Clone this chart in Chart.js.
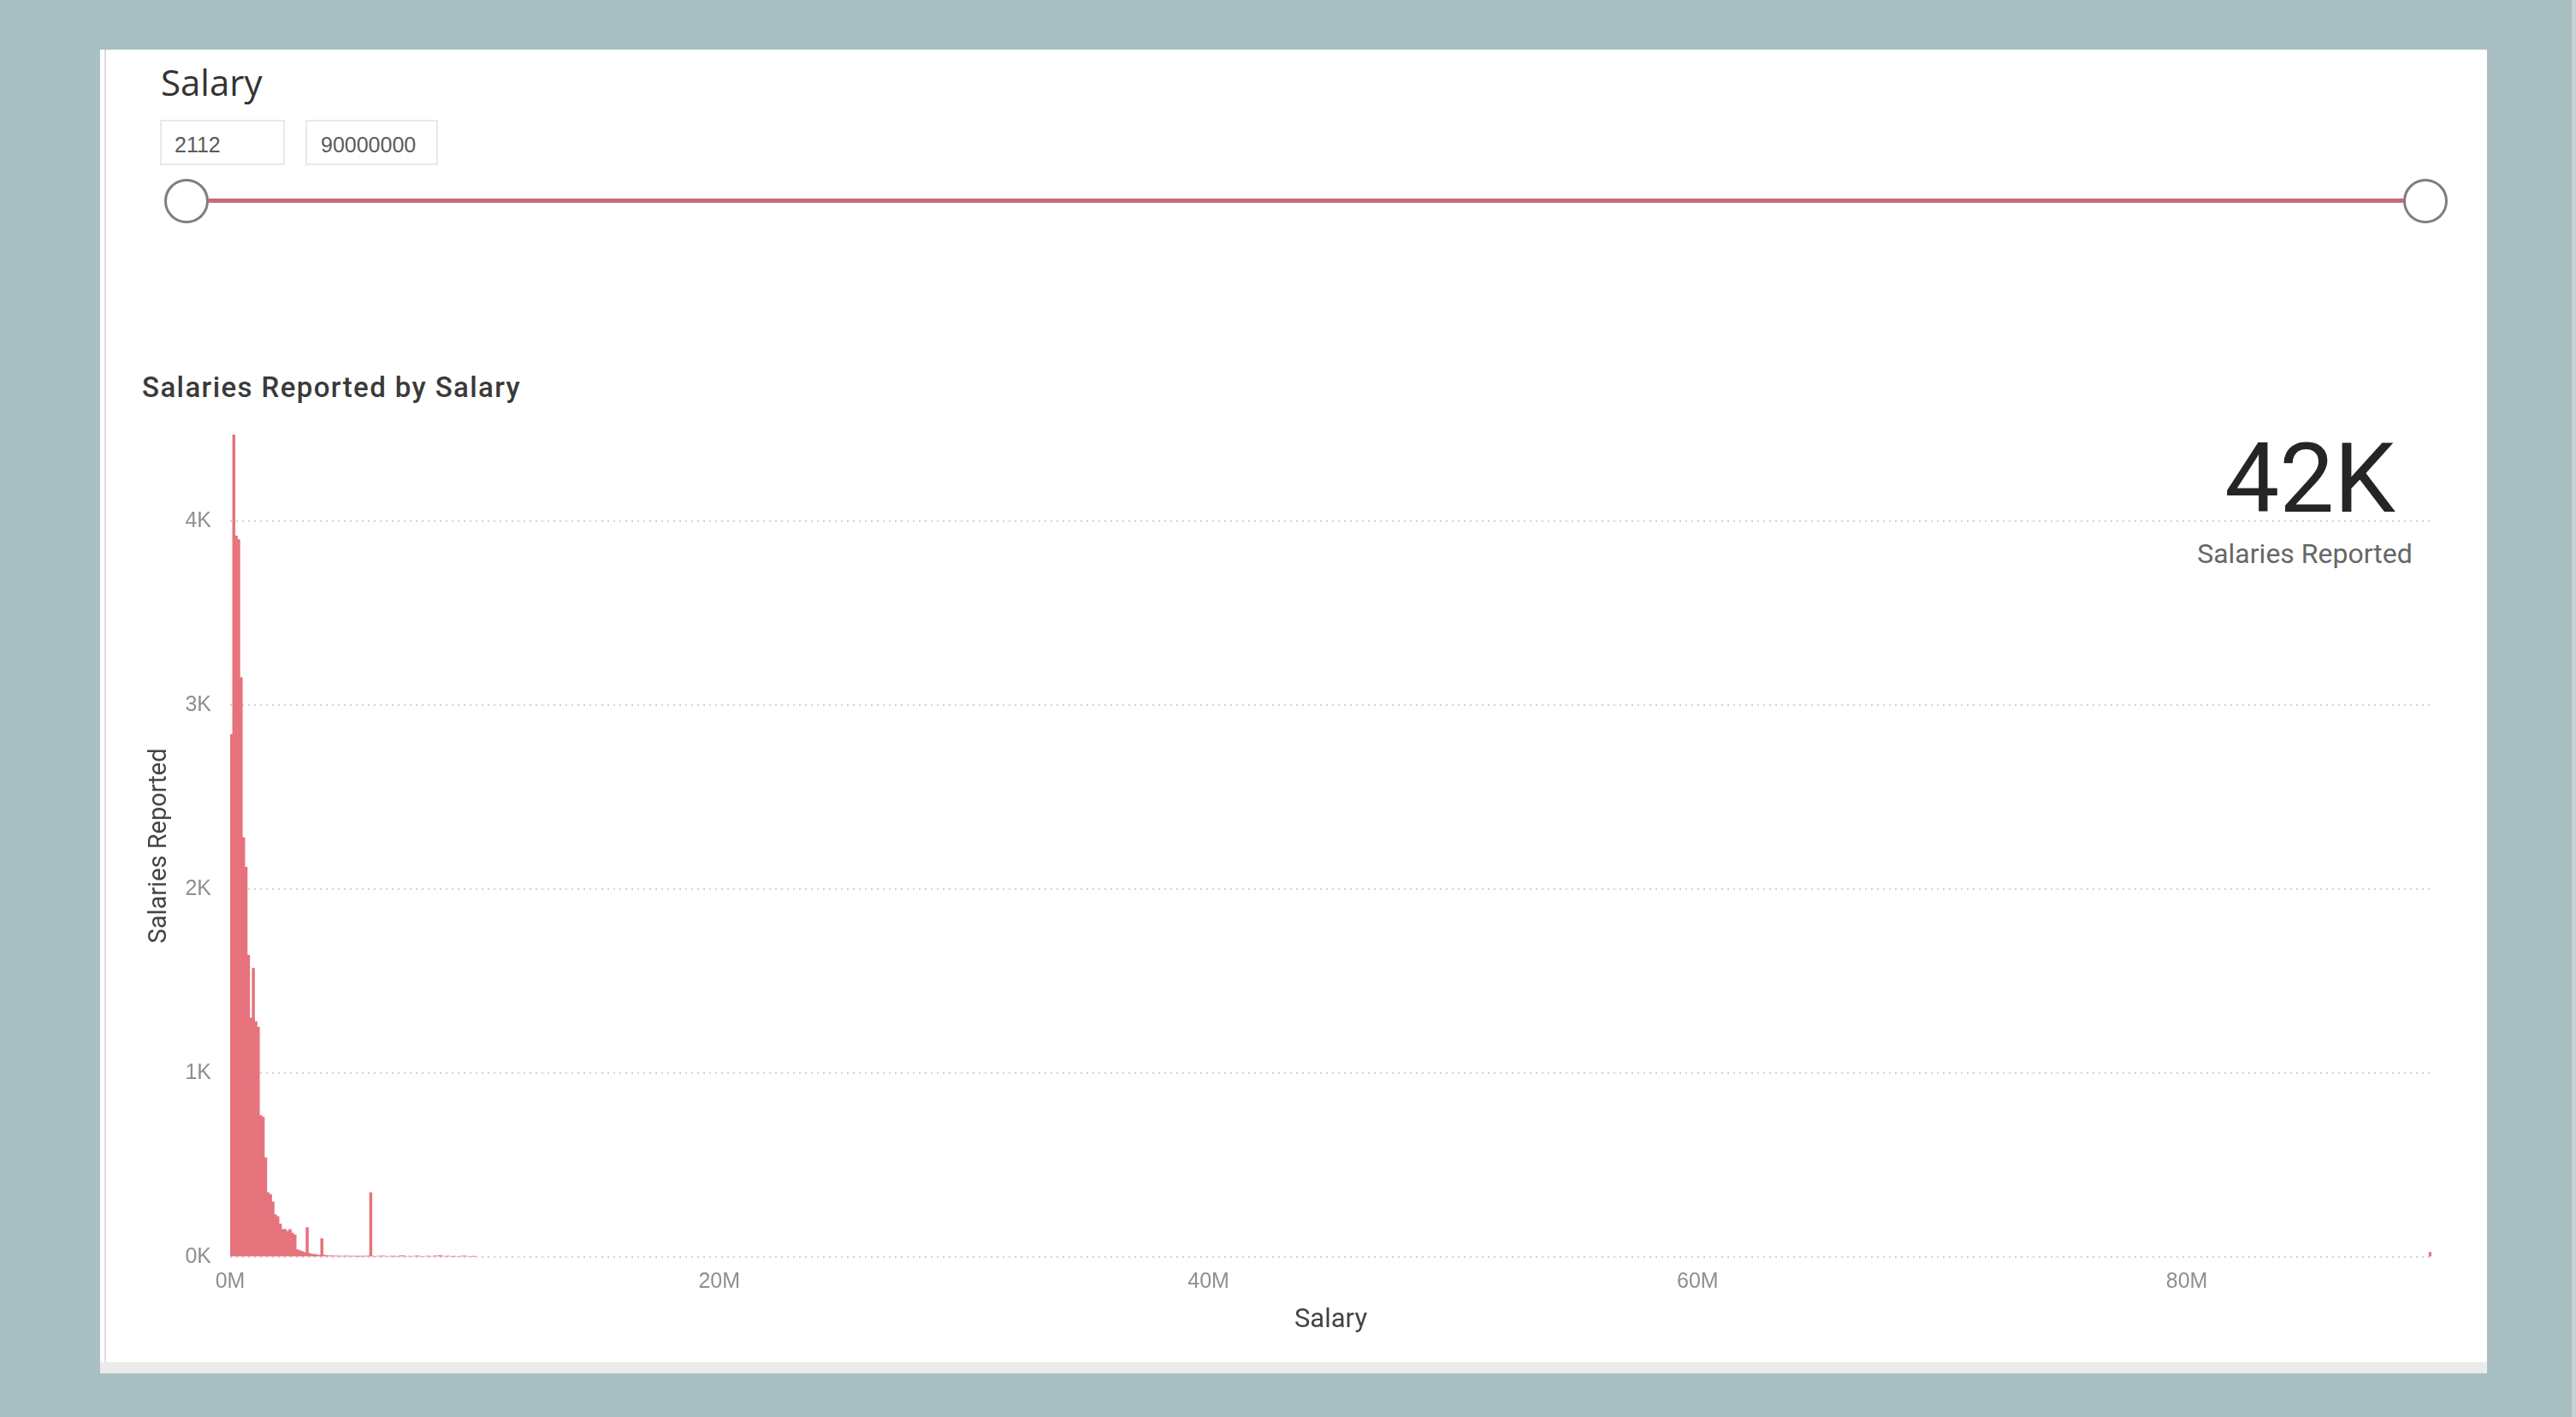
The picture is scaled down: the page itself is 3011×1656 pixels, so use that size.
<!DOCTYPE html>
<html>
<head>
<meta charset="utf-8">
<title>Salaries Reported by Salary</title>
<script src="https://cdn.jsdelivr.net/npm/chart.js@4.4.0/dist/chart.umd.min.js"></script>
<style>
  html, body { margin: 0; padding: 0; }
  body {
    width: 3011px; height: 1656px; overflow: hidden; position: relative;
    background: #a9bfc2; font-family: "Liberation Sans", Arial, sans-serif;
  }
  #panel { position: absolute; left: 117px; top: 58px; width: 2790px; height: 1547px; background: #fff; }
  #panelEdge { position: absolute; left: 122px; top: 58px; width: 2px; height: 1534px; background: #dcdcdc; }
  #panelBottom { position: absolute; left: 117px; top: 1592px; width: 2790px; height: 13px; background: #ebebeb; }
  #rightStrip { position: absolute; right: 0; top: 0; width: 5px; height: 1656px; background: #c3d2d4; }
  .txt { position: absolute; line-height: 1; white-space: nowrap; }
  #slicerTitle { left: 188px; top: 75px; font-family: "Open Sans", sans-serif; font-size: 42px; color: #333; }
  .box { position: absolute; top: 140px; height: 53px; border: 2px solid #e9e9e9; box-sizing: border-box; }
  .box span { position: absolute; top: 15px; font-size: 25px; color: #5a5a5a; line-height: 1; }
  #track { position: absolute; left: 244px; top: 232px; width: 2565px; height: 5px; background: #c56d76; }
  .knob { position: absolute; top: 209px; width: 52px; height: 52px; border-radius: 50%;
          box-sizing: border-box; border: 3px solid #857b7e; background: #fff; }
  #chartTitle { left: 166px; top: 436px; font-family: Roboto, sans-serif; font-weight: 500; font-size: 33px;
                letter-spacing: 1.4px; color: #3a3a3a; }
  #kpi { left: 2600px; top: 502px; width: 200px; text-align: center; font-family: Roboto, sans-serif; font-size: 114px; color: #252525; }
  #kpiLabel { left: 2544px; top: 631px; width: 300px; text-align: center; font-family: Roboto, sans-serif; font-size: 32px; color: #666; }
  #chart { position: absolute; left: 0; top: 0; }
</style>
</head>
<body>
<div id="panel"></div>
<div id="panelEdge"></div>
<div id="panelBottom"></div>
<div id="rightStrip"></div>

<div class="txt" id="slicerTitle">Salary</div>
<div class="box" style="left:187px;width:146px;"><span style="left:15px;">2112</span></div>
<div class="box" style="left:357px;width:155px;"><span style="left:16px;">90000000</span></div>
<div id="track"></div>
<div class="knob" style="left:192px;"></div>
<div class="knob" style="left:2809px;"></div>

<div class="txt" id="chartTitle">Salaries Reported by Salary</div>
<div class="txt" id="kpi">42K</div>
<div class="txt" id="kpiLabel">Salaries Reported</div>

<canvas id="chart" width="3011" height="1656"></canvas>

<script>
// Histogram bins of 100K salary, counts
const binSize = 100000;
const binCounts = [
  2840, 4470, 3920, 3900, 3150, 2280, 2120, 1640, 1300, 1570,
  1280, 1250, 770, 760, 540, 350, 340, 300, 230, 220,
  180, 150, 150, 140, 150, 130, 120, 40, 35, 30,
  25, 160, 20, 15, 15, 12, 10, 100, 10, 8,
  6, 7, 5, 6, 5, 4, 5, 6, 4, 5,
  4, 5, 3, 4, 5, 4, 6, 350, 4, 0,
  5, 4, 6, 5, 0, 4, 5, 3, 0, 6,
  7, 5, 0, 4, 0, 5, 6, 4, 0, 0,
  5, 4, 0, 6, 5, 8, 7, 0, 4, 5,
  0, 3, 0, 0, 4, 6, 5, 0, 0, 3, 0
];
// the single far-out salary at the top of the slider range
const outlierBins = [89900000];
const outlierCounts = [25];

const xTicks = [0, 20000000, 40000000, 60000000, 80000000];
const yTicks = [0, 1000, 2000, 3000, 4000];

const points = binCounts.map((c, i) => ({ x: i * binSize + binSize / 2, y: c }))
  .concat(outlierBins.map((b, i) => ({ x: b + binSize / 2, y: outlierCounts[i] })));

const tickFont = { family: "Liberation Sans", size: 25 };

new Chart(document.getElementById("chart"), {
  type: "bar",
  data: {
    datasets: [{
      label: "Salaries Reported",
      data: points,
      backgroundColor: "#e6737c",
      borderWidth: 0,
      barPercentage: 1,
      categoryPercentage: 1
    }]
  },
  options: {
    responsive: false,
    devicePixelRatio: 1,
    animation: false,
    layout: { padding: { left: 150, right: 169, top: 508, bottom: 87 } },
    plugins: { legend: { display: false }, tooltip: { enabled: false } },
    scales: {
      x: {
        type: "linear",
        min: 0,
        max: 90000000,
        offset: false,
        afterFit: s => { s.height = 100; },
        afterBuildTicks: s => { s.ticks = xTicks.map(v => ({ value: v })); },
        ticks: {
          padding: 6,
          font: tickFont,
          color: "#8f8f8f",
          maxRotation: 0,
          callback: v => (v / 1000000) + "M"
        },
        grid: { display: false },
        border: { display: false },
        title: {
          display: true,
          text: "Salary",
          color: "#444",
          font: { family: "Roboto", size: 31 },
          padding: { top: 0, bottom: 7 }
        }
      },
      y: {
        min: 0,
        max: 4470,
        afterFit: s => { s.width = 119; },
        afterBuildTicks: s => { s.ticks = yTicks.map(v => ({ value: v })); },
        ticks: {
          padding: 22,
          font: tickFont,
          color: "#8f8f8f",
          callback: v => (v / 1000) + "K"
        },
        grid: { color: "#d2d2d2", lineWidth: 2, drawTicks: false },
        border: { display: false, dash: [2, 5] },
        title: {
          display: true,
          text: "Salaries Reported",
          color: "#444",
          font: { family: "Roboto", size: 29 },
          padding: { top: 19, bottom: 0 }
        }
      }
    }
  }
});
</script>
</body>
</html>
